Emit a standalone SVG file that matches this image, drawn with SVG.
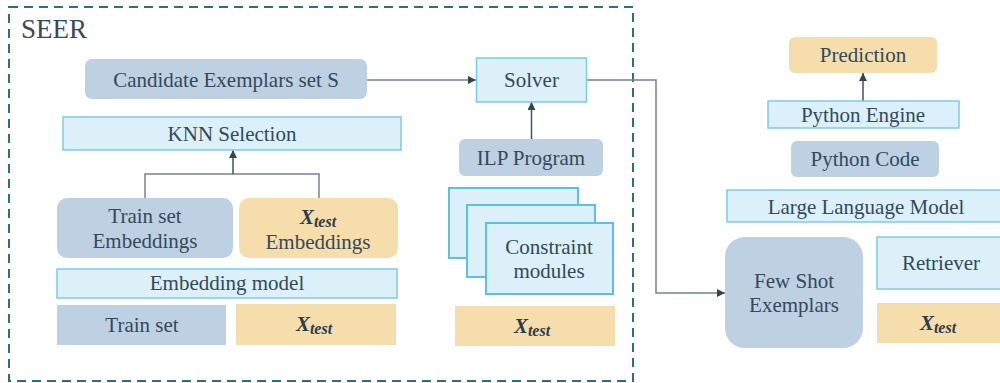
<svg xmlns="http://www.w3.org/2000/svg" width="1000" height="383" viewBox="0 0 1000 383" font-family="Liberation Serif">
<defs>
<style>
.t{font-size:21px;fill:#34495a;text-anchor:middle}
.x{font-weight:bold;font-style:italic;fill:#2b3d4a;text-anchor:middle}
.bg{fill:#bdd1e2}
.lb{fill:#dbf0f9;stroke:#7ccbee;stroke-width:1.5}
.lb2{fill:#dbf0f9;stroke:#5bbfea;stroke-width:2}
.or{fill:#f5deab}
.c{fill:none;stroke:#6f8591;stroke-width:1.5}
.ca{fill:none;stroke:#3e5563;stroke-width:1.5}
</style>
<marker id="ah" viewBox="0 0 10 10" refX="10" refY="5" markerWidth="8" markerHeight="8" markerUnits="userSpaceOnUse" orient="auto">
<path d="M0,0 L10,5 L0,10 Z" fill="#2f4655"/>
</marker>
</defs>
<rect width="1000" height="383" fill="#ffffff"/>
<g id="seer">
<rect x="9" y="7" width="624" height="374" fill="none" stroke="#2b6f82" stroke-width="2" stroke-dasharray="9,6"/>
<text x="21" y="38" font-family="Liberation Serif" font-size="27" fill="#34495a">SEER</text>
</g>
<g id="connectors">
<path class="c" d="M367,80 H476" marker-end="url(#ah)"/>
<path class="ca" d="M531.5,139 V102" marker-end="url(#ah)"/>
<path class="c" d="M145,198 V174 H319 V198"/>
<path class="ca" d="M233,174 V150" marker-end="url(#ah)"/>
<path class="c" d="M587,80 H656 V293 H725" marker-end="url(#ah)"/>
<path class="ca" d="M863,101 V73" marker-end="url(#ah)"/>
</g>
<g id="candidate" font-family="Liberation Serif">
<rect class="bg" x="85" y="59" width="282" height="40" rx="7"/>
<text class="t" x="226" y="87">Candidate Exemplars set S</text>
</g>
<g id="solver" font-family="Liberation Serif">
<rect class="lb" x="476.5" y="58" width="110" height="44"/>
<text class="t" x="531.5" y="87">Solver</text>
</g>
<g id="knn" font-family="Liberation Serif">
<rect class="lb" x="63" y="117" width="338" height="33"/>
<text class="t" x="232" y="141">KNN Selection</text>
</g>
<g id="train-emb" font-family="Liberation Serif">
<rect class="bg" x="57" y="198" width="176" height="60" rx="10"/>
<text class="t" x="145" y="223">Train set</text>
<text class="t" x="145" y="248">Embeddings</text>
</g>
<g id="xtest-emb" font-family="Liberation Serif">
<rect class="or" x="239" y="198" width="159" height="60" rx="10"/>
<text class="x" x="318" y="224"><tspan font-size="21">X</tspan><tspan font-size="16" dy="3">test</tspan></text>
<text class="t" x="318" y="249">Embeddings</text>
</g>
<g id="emb-model" font-family="Liberation Serif">
<rect class="lb" x="57" y="269" width="340" height="29"/>
<text class="t" x="227" y="290">Embedding model</text>
</g>
<g id="trainset" font-family="Liberation Serif">
<rect class="bg" x="57" y="305" width="169" height="40"/>
<text class="t" x="142" y="332">Train set</text>
</g>
<g id="xtest1" font-family="Liberation Serif">
<rect class="or" x="236" y="304" width="160" height="41"/>
<text class="x" x="314" y="331"><tspan font-size="21">X</tspan><tspan font-size="16" dy="3">test</tspan></text>
</g>
<g id="ilp" font-family="Liberation Serif">
<rect class="bg" x="459" y="139" width="144" height="37" rx="6"/>
<text class="t" x="531" y="165">ILP Program</text>
</g>
<g id="constraints" font-family="Liberation Serif">
<rect class="lb2" x="449" y="188" width="129" height="70"/>
<rect class="lb2" x="467" y="205" width="128" height="72"/>
<rect class="lb2" x="486" y="223" width="127" height="71"/>
<text class="t" x="549" y="254">Constraint</text>
<text class="t" x="549" y="278">modules</text>
</g>
<g id="xtest2" font-family="Liberation Serif">
<rect class="or" x="455" y="306" width="160" height="40"/>
<text class="x" x="532" y="333"><tspan font-size="21">X</tspan><tspan font-size="16" dy="3">test</tspan></text>
</g>
<g id="prediction" font-family="Liberation Serif">
<rect class="or" x="789" y="37" width="148" height="36" rx="6"/>
<text class="t" x="863" y="62">Prediction</text>
</g>
<g id="python-engine" font-family="Liberation Serif">
<rect class="lb" x="768" y="101" width="191" height="27"/>
<text class="t" x="863" y="122">Python Engine</text>
</g>
<g id="python-code" font-family="Liberation Serif">
<rect class="bg" x="791" y="141" width="148" height="36" rx="6"/>
<text class="t" x="865" y="166">Python Code</text>
</g>
<g id="llm" font-family="Liberation Serif">
<rect class="lb" x="727" y="190" width="280" height="32"/>
<text class="t" x="866" y="214">Large Language Model</text>
</g>
<g id="few-shot" font-family="Liberation Serif">
<rect class="bg" x="725" y="237" width="138" height="111" rx="20"/>
<text class="t" x="794" y="288">Few Shot</text>
<text class="t" x="794" y="312">Exemplars</text>
</g>
<g id="retriever" font-family="Liberation Serif">
<rect class="lb" x="877" y="237" width="130" height="52"/>
<text class="t" x="941" y="270">Retriever</text>
</g>
<g id="xtest3" font-family="Liberation Serif">
<rect class="or" x="877" y="303" width="130" height="40"/>
<text class="x" x="938" y="330"><tspan font-size="21">X</tspan><tspan font-size="16" dy="3">test</tspan></text>
</g>
</svg>
